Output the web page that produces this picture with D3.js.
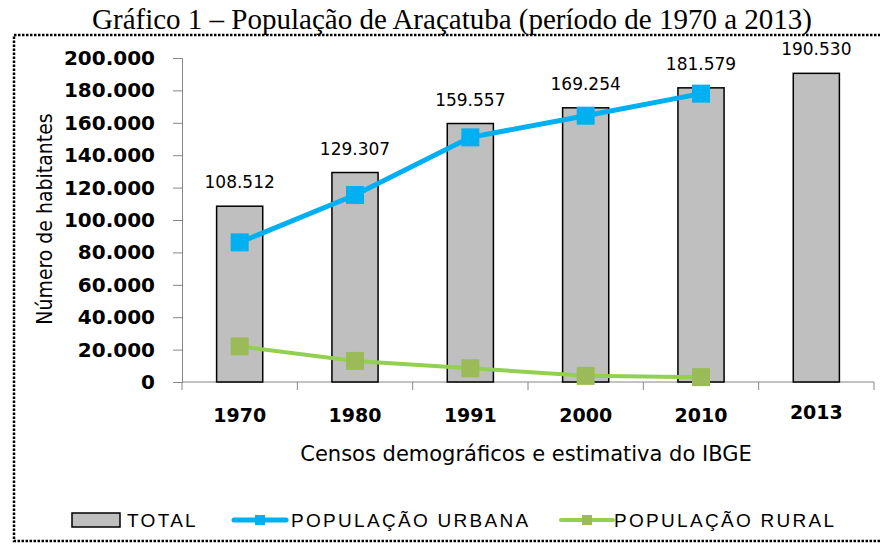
<!DOCTYPE html>
<html>
<head>
<meta charset="utf-8">
<script src="https://cdn.jsdelivr.net/npm/d3@7"></script>
<style>
  body { margin: 0; background: #fff; }
  svg { display: block; }
</style>
</head>
<body>
<div class="canvas"></div>
<script>
// data
const years = ['1970', '1980', '1991', '2000', '2010', '2013'];
const total = [108512, 129307, 159557, 169254, 181579, 190530];
const urbana = [86200, 115400, 151000, 164400, 178000, null];
const rural = [22000, 13000, 8500, 3800, 3000, null];
const yTicks = [0, 20000, 40000, 60000, 80000, 100000, 120000, 140000, 160000, 180000, 200000];
const legendLabels = ['TOTAL', 'POPULAÇÃO URBANA', 'POPULAÇÃO RURAL'];

const fmt = v => v === 0 ? '0' : d3.format(',')(v).replace(/,/g, '.');

const svg = d3.select('.canvas').append('svg')
    .attr('width', 880)
    .attr('height', 544);

// title
svg.append('text')
    .attr('x', 452)
    .attr('y', 29)
    .attr('text-anchor', 'middle')
    .style('font-family', '"Liberation Serif", "Times New Roman", serif')
    .style('font-size', '29px')
    .text('Gráfico 1 – População de Araçatuba (período de 1970 a 2013)');

// dotted frame
svg.append('rect')
    .attr('x', 14)
    .attr('y', 35)
    .attr('width', 880)
    .attr('height', 506)
    .attr('fill', 'none')
    .attr('stroke', '#000')
    .attr('stroke-width', 2.5)
    .attr('stroke-dasharray', '2.5,1.5');

const x = d3.scaleBand()
    .domain(years)
    .range([182, 874])
    .paddingInner(0.6)
    .paddingOuter(0.3);

const xLine = d3.scaleBand().domain(years).range([182, 874]);

const y = d3.scaleLinear()
    .domain([0, 200000])
    .range([382, 58]);

// y axis
const yAxis = svg.append('g')
    .attr('transform', 'translate(182,0)')
    .call(d3.axisLeft(y).tickValues(yTicks).tickSize(9).tickPadding(18).tickFormat(fmt));
yAxis.selectAll('line, path').attr('stroke', '#868686');
yAxis.selectAll('text')
    .attr('fill', '#000')
    .style('font-family', '"DejaVu Sans", sans-serif')
    .style('font-weight', 'bold')
    .style('font-size', '20px');

// x axis with ticks on band edges
const xAxis = svg.append('g')
    .attr('transform', 'translate(0,382)');
xAxis.append('line')
    .attr('x1', 182).attr('x2', 874)
    .attr('stroke', '#868686');
xAxis.selectAll('.edge')
    .data(years.concat(['end']))
    .join('line')
    .attr('class', 'edge')
    .attr('x1', (d, i) => i < years.length ? xLine(d) : 874)
    .attr('x2', (d, i) => i < years.length ? xLine(d) : 874)
    .attr('y1', 0).attr('y2', 8)
    .attr('stroke', '#868686');
xAxis.selectAll('.lab')
    .data(years)
    .join('text')
    .attr('class', 'lab')
    .attr('x', d => xLine(d) + xLine.bandwidth() / 2)
    .attr('y', d => d === '2013' ? 37 : 40)
    .attr('text-anchor', 'middle')
    .style('font-family', '"DejaVu Sans", sans-serif')
    .style('font-weight', 'bold')
    .style('font-size', '19px')
    .text(d => d);

// axis titles
svg.append('text')
    .attr('x', 526)
    .attr('y', 461)
    .attr('text-anchor', 'middle')
    .style('font-family', '"DejaVu Sans", sans-serif')
    .style('font-size', '21px')
    .text('Censos demográficos e estimativa do IBGE');

svg.append('text')
    .attr('transform', 'translate(52,219) rotate(-90)')
    .attr('text-anchor', 'middle')
    .style('font-family', '"DejaVu Sans Condensed", "DejaVu Sans", sans-serif')
    .style('font-size', '21px')
    .text('Número de habitantes');

// bars
svg.selectAll('.bar')
    .data(total)
    .join('rect')
    .attr('class', 'bar')
    .attr('x', (d, i) => x(years[i]))
    .attr('y', d => y(d))
    .attr('width', x.bandwidth())
    .attr('height', d => y(0) - y(d))
    .attr('fill', '#bfbfbf')
    .attr('stroke', '#000')
    .attr('stroke-width', 1.5);

svg.selectAll('.val')
    .data(total)
    .join('text')
    .attr('class', 'val')
    .attr('x', (d, i) => x(years[i]) + x.bandwidth() / 2)
    .attr('y', d => y(d) - 18)
    .attr('text-anchor', 'middle')
    .style('font-family', '"DejaVu Sans", sans-serif')
    .style('font-size', '17px')
    .text(fmt);

// lines
const cx = i => xLine(years[i]) + xLine.bandwidth() / 2;
const line = d3.line()
    .defined(d => d !== null)
    .x((d, i) => cx(i))
    .y(d => y(d));

const series = [
  { values: urbana, line: '#00b0f0', mark: '#00b0f0', width: 5 },
  { values: rural, line: '#92d050', mark: '#9bbb59', width: 4 }
];

series.forEach(s => {
  svg.append('path')
      .datum(s.values)
      .attr('d', line)
      .attr('fill', 'none')
      .attr('stroke', s.line)
      .attr('stroke-width', s.width);
  svg.selectAll(null)
      .data(s.values.map((v, i) => [v, i]).filter(d => d[0] !== null))
      .join('rect')
      .attr('x', d => cx(d[1]) - 9)
      .attr('y', d => y(d[0]) - 9)
      .attr('width', 18)
      .attr('height', 18)
      .attr('fill', s.mark);
});

// legend
const legend = svg.append('g');
legend.append('rect')
    .attr('x', 72).attr('y', 513)
    .attr('width', 48).attr('height', 14)
    .attr('fill', '#bfbfbf')
    .attr('stroke', '#000')
    .attr('stroke-width', 1.5);

[[234, series[0]], [561, series[1]]].forEach(([lx, s]) => {
  legend.append('line')
      .attr('x1', lx).attr('x2', lx + 52)
      .attr('y1', 520).attr('y2', 520)
      .attr('stroke', s.line)
      .attr('stroke-width', s.width)
      .attr('stroke-linecap', 'round');
  legend.append('rect')
      .attr('x', lx + 21).attr('y', 515)
      .attr('width', 10).attr('height', 10)
      .attr('fill', s.mark);
});

legend.selectAll('.leg')
    .data(legendLabels)
    .join('text')
    .attr('class', 'leg')
    .attr('x', (d, i) => [127, 291, 614][i])
    .attr('y', 527)
    .style('font-family', '"Liberation Sans Narrow", sans-serif')
    .style('font-size', '19px')
    .style('letter-spacing', '2.3px')
    .text(d => d);
</script>
</body>
</html>
